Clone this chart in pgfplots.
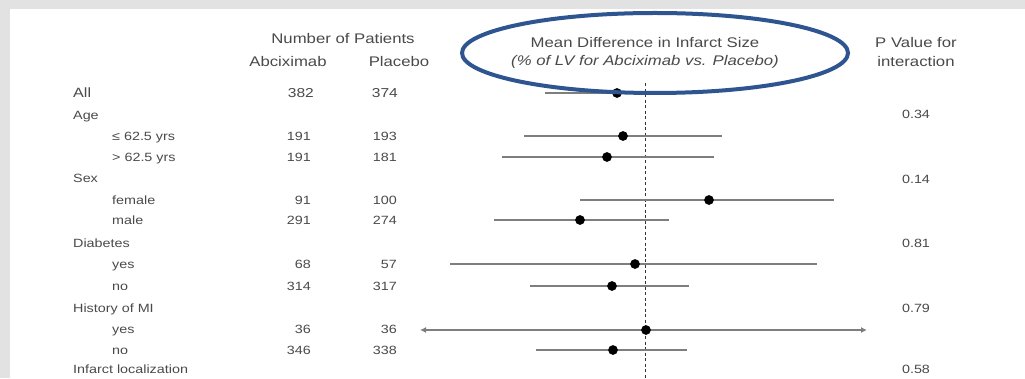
\documentclass[border=0pt]{standalone}
\usepackage{pgfplots}
\pgfplotsset{compat=1.18}
\usepackage{pgfplotstable}
\usepackage{fontspec}
\setmainfont[FakeStretch=1.2]{Liberation Sans}
\usetikzlibrary{arrows.meta}
\definecolor{txt}{HTML}{4A4A4A}
\definecolor{cicol}{HTML}{7E7E7E}
\definecolor{ell}{RGB}{47,85,145}
\definecolor{frame}{HTML}{E2E2E2}

% forest data: y = row position (px), d = mean difference, ep/em = CI half-widths
\pgfplotstableread{
y   d      ep    em
93  -1.12  2.92  2.88
136 -0.88  3.96  3.96
157 -1.52  4.28  4.20
200  2.56  5.00  5.16
220 -2.60  3.56  3.44
264 -0.40  7.28  7.40
286 -1.32  3.08  3.28
350 -1.28  2.96  3.08
}\cidata

\newcommand{\hd}{\fontsize{14}{16}\selectfont}
\newcommand{\bd}{\fontsize{12}{14}\selectfont}

\begin{document}
\begin{tikzpicture}[x=1bp,y=1bp]
\clip (0,0) rectangle (1025,378);
\fill[frame] (0,0) rectangle (1025,378);
\fill[white] (10,0) rectangle (1025,369);

% text layer in pixel coordinates
\begin{axis}[name=txtax, at={(0,0)}, anchor=south west, scale only axis, width=1025bp, height=378bp,
  hide axis, xmin=0, xmax=1025, ymin=0, ymax=378, y dir=reverse, clip=false]
\begin{scope}[every node/.style={text=txt, inner sep=0pt}]
\node[font=\hd] at (axis cs:343,39) {Number of Patients};
\node[font=\hd] at (axis cs:288,62) {Abciximab};
\node[font=\hd] at (axis cs:399,62) {Placebo};
\node[font=\hd] at (axis cs:645,43) {Mean Difference in Infarct Size};
\node[font=\hd\itshape] at (axis cs:645,62) {(\% of LV for Abciximab vs. Placebo)};
\node[font=\hd] at (axis cs:916,43) {P Value for};
\node[font=\hd] at (axis cs:916,62) {interaction};

\node[font=\fontsize{13.5}{15}\selectfont, anchor=mid west] at (axis cs:73,95) {All};
\node[font=\bd, anchor=mid west] at (axis cs:73,117) {Age};
\node[font=\bd, anchor=mid west] at (axis cs:112,138) {≤ 62.5 yrs};
\node[font=\bd, anchor=mid west] at (axis cs:112,159) {> 62.5 yrs};
\node[font=\bd, anchor=mid west] at (axis cs:73,180) {Sex};
\node[font=\bd, anchor=mid west] at (axis cs:112,202) {female};
\node[font=\bd, anchor=mid west] at (axis cs:112,222) {male};
\node[font=\bd, anchor=mid west] at (axis cs:73,245) {Diabetes};
\node[font=\bd, anchor=mid west] at (axis cs:112,266) {yes};
\node[font=\bd, anchor=mid west] at (axis cs:112,288) {no};
\node[font=\bd, anchor=mid west] at (axis cs:73,310) {History of MI};
\node[font=\bd, anchor=mid west] at (axis cs:112,331) {yes};
\node[font=\bd, anchor=mid west] at (axis cs:112,352) {no};
\node[font=\bd, anchor=mid west] at (axis cs:73,371) {Infarct localization};

% Abciximab counts
\node[font=\fontsize{13}{15}\selectfont, anchor=mid east] at (axis cs:314,95) {382};
\node[font=\bd, anchor=mid east] at (axis cs:311,138) {191};
\node[font=\bd, anchor=mid east] at (axis cs:311,159) {191};
\node[font=\bd, anchor=mid east] at (axis cs:311,202) {91};
\node[font=\bd, anchor=mid east] at (axis cs:311,222) {291};
\node[font=\bd, anchor=mid east] at (axis cs:311,266) {68};
\node[font=\bd, anchor=mid east] at (axis cs:311,288) {314};
\node[font=\bd, anchor=mid east] at (axis cs:311,331) {36};
\node[font=\bd, anchor=mid east] at (axis cs:311,352) {346};
% Placebo counts
\node[font=\fontsize{13}{15}\selectfont, anchor=mid east] at (axis cs:398,95) {374};
\node[font=\bd, anchor=mid east] at (axis cs:397,138) {193};
\node[font=\bd, anchor=mid east] at (axis cs:397,159) {181};
\node[font=\bd, anchor=mid east] at (axis cs:397,202) {100};
\node[font=\bd, anchor=mid east] at (axis cs:397,222) {274};
\node[font=\bd, anchor=mid east] at (axis cs:397,266) {57};
\node[font=\bd, anchor=mid east] at (axis cs:397,288) {317};
\node[font=\bd, anchor=mid east] at (axis cs:397,331) {36};
\node[font=\bd, anchor=mid east] at (axis cs:397,352) {338};
% P values
\node[font=\bd, anchor=mid] at (axis cs:916,116) {0.34};
\node[font=\bd, anchor=mid] at (axis cs:916,181) {0.14};
\node[font=\bd, anchor=mid] at (axis cs:916,245) {0.81};
\node[font=\bd, anchor=mid] at (axis cs:916,310) {0.79};
\node[font=\bd, anchor=mid] at (axis cs:916,371) {0.58};
\end{scope}
\end{axis}

% forest layer: x in difference units (25 px per unit, 0 at px 645)
\begin{axis}[at={(0,0)}, anchor=south west, scale only axis, width=1025bp, height=378bp,
  hide axis, xmin=-25.8, xmax=15.2, ymin=0, ymax=378, y dir=reverse, clip=false]
\addplot[black!80, dash pattern=on 3bp off 2.5bp, line width=0.8bp] coordinates {(0,83) (0,378)};
\addplot[cicol, line width=2.5bp, {Latex[length=6bp,width=6bp]}-{Latex[length=6bp,width=6bp]}]
  coordinates {(-9.00,330) (8.88,330)};
\addplot[only marks, mark=*, mark size=4.6bp, mark options={black},
  error bars/.cd, x dir=both, x explicit, error mark=none,
  error bar style={cicol, line width=2.5bp}]
  table[x=d, y=y, x error plus=ep, x error minus=em] {\cidata};
\addplot[only marks, mark=*, mark size=4.6bp, mark options={black}]
  coordinates {(0.04,330)};
\end{axis}

\begin{axis}[at={(0,0)}, anchor=south west, scale only axis, width=1025bp, height=378bp,
  hide axis, xmin=0, xmax=1025, ymin=0, ymax=378, y dir=reverse, clip=false]
\draw[ell, line width=4bp] (axis cs:655,53) ellipse [x radius=193, y radius=40];
\end{axis}
\end{tikzpicture}
\end{document}
